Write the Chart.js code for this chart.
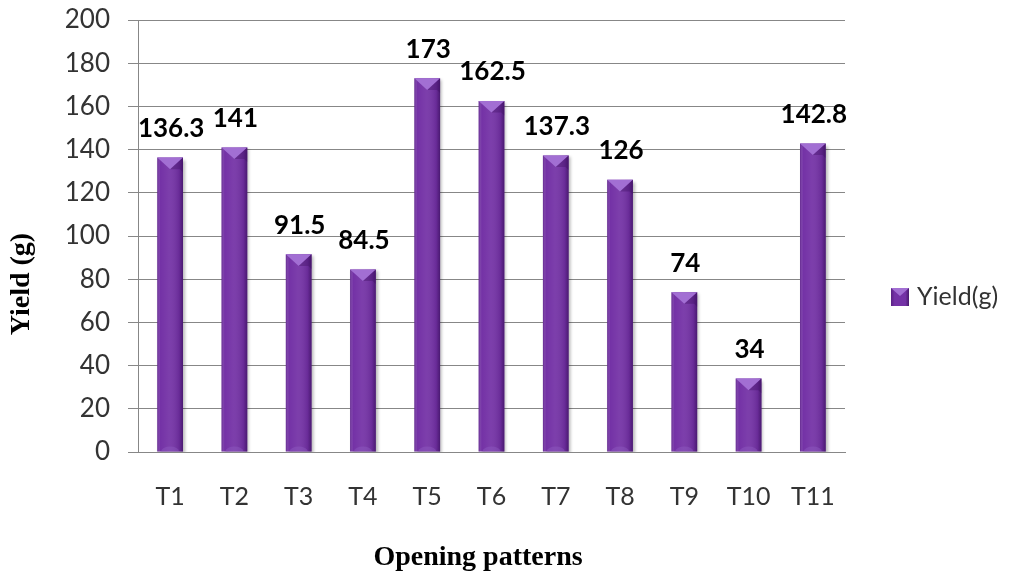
<!DOCTYPE html>
<html>
<head>
<meta charset="utf-8">
<script src="https://cdn.jsdelivr.net/npm/chart.js@4.4.1/dist/chart.umd.min.js"></script>
<style>
html,body{margin:0;padding:0;background:#fff;}
#wrap{width:1010px;height:571px;position:relative;}
</style>
</head>
<body>
<div id="wrap"><canvas id="c" width="1010" height="571"></canvas></div>
<script>
const categories = ['T1','T2','T3','T4','T5','T6','T7','T8','T9','T10','T11'];
const yieldValues = [136.3, 141, 91.5, 84.5, 173, 162.5, 137.3, 126, 74, 34, 142.8];
const valueLabels = ['136.3','141','91.5','84.5','173','162.5','137.3','126','74','34','142.8'];
const seriesName = 'Yield(g)';
const yTitle = 'Yield (g)';
const xTitle = 'Opening patterns';

const BAR = '#7432A6';

const bevelPlugin = {
  id: 'bevel',
  beforeDatasetDraw(chart) {
    const ctx = chart.ctx;
    ctx.save();
    ctx.shadowColor = 'rgba(0,0,0,0.28)';
    ctx.shadowOffsetX = 2;
    ctx.shadowOffsetY = 2;
    ctx.shadowBlur = 3;
  },
  afterDatasetDraw(chart) {
    chart.ctx.restore();
  },
  afterDatasetsDraw(chart) {
    const ctx = chart.ctx;
    const meta = chart.getDatasetMeta(0);
    ctx.save();
    meta.data.forEach((bar, i) => {
      const w = bar.width;
      const l = bar.x - w / 2, r = bar.x + w / 2;
      const t = bar.y, b = bar.base;
      const g = ctx.createLinearGradient(l, 0, r, 0);
      g.addColorStop(0, 'rgba(60,15,95,0.35)');
      g.addColorStop(0.12, 'rgba(255,255,255,0.0)');
      g.addColorStop(0.45, 'rgba(255,255,255,0.06)');
      g.addColorStop(0.85, 'rgba(40,5,70,0.15)');
      g.addColorStop(1, 'rgba(40,5,70,0.55)');
      ctx.fillStyle = g;
      ctx.fillRect(l, t, w, b - t);
      const d = Math.min(w * 0.45, (b - t));
      ctx.beginPath();
      ctx.moveTo(l, t);
      ctx.lineTo(r, t);
      ctx.lineTo(bar.x, t + d);
      ctx.closePath();
      ctx.fillStyle = '#A26FD3';
      ctx.fill();
      ctx.beginPath();
      ctx.moveTo(r, t);
      ctx.lineTo(bar.x, t + d);
      ctx.lineTo(r - 3, t + d);
      ctx.lineTo(r, t + d + 3);
      ctx.closePath();
      ctx.fillStyle = 'rgba(60,15,95,0.35)';
      ctx.fill();
      ctx.beginPath();
      ctx.ellipse(bar.x, b, w * 0.35, 5, 0, Math.PI, 2 * Math.PI);
      ctx.fillStyle = 'rgba(150,100,200,0.35)';
      ctx.fill();
      ctx.fillStyle = '#000';
      ctx.font = 'bold 26px Lato';
      ctx.textAlign = 'center';
      ctx.textBaseline = 'middle';
      ctx.fillText(valueLabels[i], bar.x + 1, t - 29);
    });
    ctx.restore();
  },
  afterDraw(chart) {
    const ctx = chart.ctx;
    ctx.save();
    ctx.fillStyle = '#000';
    ctx.font = 'bold 28px "Liberation Serif"';
    ctx.textAlign = 'center';
    ctx.textBaseline = 'middle';
    ctx.translate(22, 284);
    ctx.rotate(-Math.PI / 2);
    ctx.fillText(yTitle, 0, 0);
    ctx.restore();
    ctx.save();
    ctx.fillStyle = '#000';
    ctx.font = 'bold 28px "Liberation Serif"';
    ctx.textAlign = 'center';
    ctx.textBaseline = 'alphabetic';
    ctx.fillText(xTitle, 478, 565);
    const bx = 891, by = 288, bs = 18;
    const lg = ctx.createLinearGradient(bx, 0, bx + bs, 0);
    lg.addColorStop(0, '#5a2184');
    lg.addColorStop(0.2, BAR);
    lg.addColorStop(0.8, BAR);
    lg.addColorStop(1, '#4a1a6e');
    ctx.fillStyle = lg;
    ctx.fillRect(bx, by, bs, bs);
    ctx.beginPath();
    ctx.moveTo(bx, by); ctx.lineTo(bx + bs, by); ctx.lineTo(bx + bs / 2, by + 8); ctx.closePath();
    ctx.fillStyle = '#A26FD3';
    ctx.fill();
    ctx.fillStyle = '#333';
    ctx.font = '25px Lato';
    ctx.textAlign = 'left';
    ctx.textBaseline = 'middle';
    ctx.fillText(seriesName, 917, 297);
    ctx.restore();
  }
};

new Chart(document.getElementById('c'), {
  type: 'bar',
  data: {
    labels: categories,
    datasets: [{
      label: seriesName,
      data: yieldValues,
      backgroundColor: BAR,
      borderWidth: 0,
      categoryPercentage: 1,
      barPercentage: 0.4
    }]
  },
  options: {
    responsive: false,
    animation: false,
    devicePixelRatio: 1,
    layout: { padding: { left: 0, right: 165, top: 20, bottom: 0 } },
    plugins: {
      legend: { display: false },
      tooltip: { enabled: false }
    },
    scales: {
      x: {
        grid: { display: false, drawTicks: false },
        border: { display: true, color: '#878787', width: 1 },
        ticks: { font: { family: 'Lato', size: 25 }, color: '#333', padding: 30 },
        afterFit(s) { s.height = 119; s.paddingLeft = 0; s.paddingRight = 0; }
      },
      y: {
        min: 0, max: 200,
        ticks: { stepSize: 20, font: { family: 'Lato', size: 26 }, color: '#333', padding: 18 },
        grid: { color: '#878787', lineWidth: 1, tickLength: 10, drawTicks: true, tickColor: '#878787' },
        border: { display: true, color: '#878787', width: 1 },
        afterFit(s) { s.width = 138; s.paddingTop = 0; s.paddingBottom = 0; }
      }
    }
  },
  plugins: [bevelPlugin]
});
</script>
</body>
</html>
